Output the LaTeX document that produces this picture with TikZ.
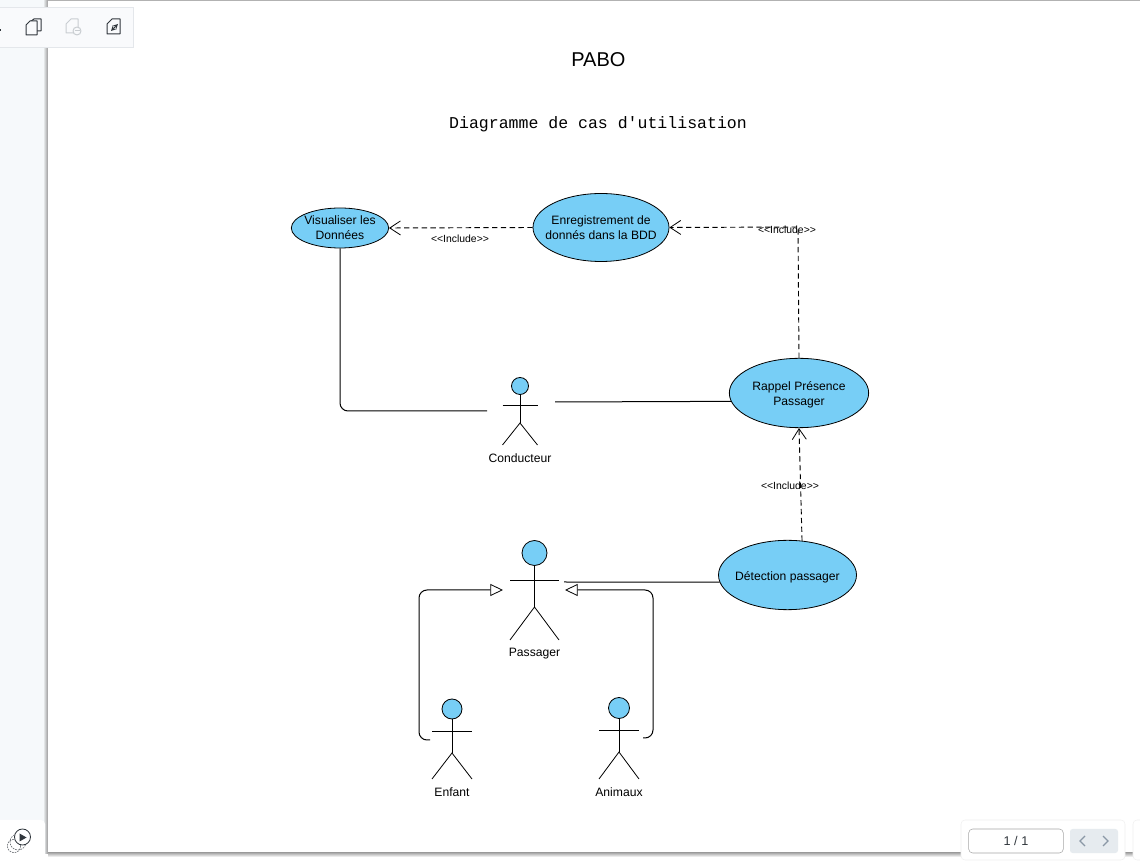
\documentclass[tikz,border=0pt]{standalone}
\usepackage{fontspec}
\setmainfont{Liberation Sans}
\setmonofont{Liberation Mono}
\usetikzlibrary{arrows.meta,shapes.geometric}
\definecolor{cyanfill}{HTML}{77CEF6}
\definecolor{panelbg}{HTML}{F6F9FB}
\definecolor{toolbg}{HTML}{F9FAFC}
\definecolor{toolline}{HTML}{E4E7EB}
\definecolor{navbg}{HTML}{E6EBEF}
\definecolor{navfg}{HTML}{8A98A6}
\definecolor{iconfg}{HTML}{30363C}
\definecolor{iconoff}{HTML}{C9CDD1}
% actor: name, x, head y, radius, half width, arm y, hip y, foot y, label
\newcommand{\actor}[9]{
    \node[head, minimum size = 2*#4*0.75pt] (#1) at (#2,#3) {};
    \coordinate (#1hip) at (#2,#7);
    \draw[limb] (#1) -- (#1hip);
    \draw[limb] (#2-#5,#6) -- (#2+#5,#6);
    \draw[limb] (#2-#5,#8) -- (#1hip) -- (#2+#5,#8);
    \node[actorlabel] (#1label) at (#2,#8+13.5) {#9};
}
\begin{document}
\begin{tikzpicture}[
                    x = 0.75pt,
                    y = -0.75pt,
                    include/.style = {draw, dashed, dash pattern = on 4pt off 2.6pt, line width = 0.7pt, -{Straight Barb[length = 8pt, width = 10.5pt, line width = 0.6pt]}},
                    assoc/.style = {draw, line width = 0.75pt, rounded corners = 6pt},
                    general/.style = {assoc, -{Triangle[open, length = 9.5pt, width = 9pt, line width = 0.6pt, fill = white]}},
                    usecase/.style = {draw, ellipse, fill = cyanfill, line width = 0.6pt, inner sep = -16pt, align = center, font = \fontsize{9.1}{11}\selectfont},
                    head/.style = {draw, circle, fill = cyanfill, line width = 0.6pt, inner sep = 0pt},
                    limb/.style = {draw, line width = 0.6pt},
                    actorlabel/.style = {font = \fontsize{9.1}{11}\selectfont, inner sep = 0pt},
                    inclabel/.style = {font = \fontsize{7.8}{9}\selectfont, inner sep = 0pt},
                    tool/.style = {draw = iconfg, line width = 0.75pt, line join = round}]
    \useasboundingbox (0,0) rectangle (1140,862);
    % viewer around the page
    \fill[panelbg] (0,0) rectangle (1140,862);
    \fill[white] (44,852) rectangle (1140,862);
    \shade[left color = panelbg, right color = black!40] (43,0) rectangle (48,853);
    \shade[top color = black!40, bottom color = white] (48,852) rectangle (1140,857);
    \fill[white] (48,1) rectangle (1140,852);
    \fill[black!30] (48,0) rectangle (1140,1);
    \filldraw[fill = toolbg, draw = toolline] (-2,7) rectangle (133,47);
    \fill[white, rounded corners = 3pt] (-6,820) rectangle (45,868);
    % title
    \node[font = \fontsize{15}{18}\selectfont] (pabo) at (598.4,60) {PABO};
    \node[font = \ttfamily\fontsize{12.4}{15}\selectfont] (titre) at (598,124) {Diagramme de cas d'utilisation};
    % use cases
    \node[usecase, minimum width = 73pt, minimum height = 30pt]    (visu)      at (340,228)   {Visualiser les\\Données};
    \node[usecase, minimum width = 102pt, minimum height = 51pt]   (enreg)     at (601,227.5) {Enregistrement de\\donnés dans la BDD};
    \node[usecase, minimum width = 104.5pt, minimum height = 52pt] (rappel)    at (799,393)   {\rule{0pt}{9.5pt}Rappel Présence\\Passager};
    \node[usecase, minimum width = 103.5pt, minimum height = 52pt] (detection) at (787.5,575) {\rule{0pt}{9.5pt}Détection passager};
    % actors
    \actor{cond}{520}{386}{8.5}{17.5}{405}{423}{445}{Conducteur}
    \actor{pass}{534.5}{553}{12.5}{24.5}{580}{607}{640}{Passager}
    \actor{enfant}{452}{709}{10}{20}{731}{753}{779}{Enfant}
    \actor{animaux}{619}{708}{10.5}{20}{730}{752}{779}{Animaux}
    % free ends
    \coordinate (condw)  at (487,411);
    \coordinate (conde)  at (555,402);
    \coordinate (passe)  at (564,582);
    \coordinate (passgw) at (503,590);
    \coordinate (passge) at (565,590);
    \coordinate (enfante)  at (430,740);
    \coordinate (animauxe) at (643,738);
    \coordinate (coude) at (798,227);
    % connectors
    \path[include] (enreg.west) -- (visu.east);
    \path[include] (rappel.north) -- (coude) -- (enreg.east);
    \path[include] (detection.67) -- (rappel.south);
    \path[assoc] (visu.south) |- (condw);
    \path[assoc] (conde) -- (rappel.187.5);
    \path[assoc] (detection.186) -- (passe);
    \path[general] (enfante) -- (419,740) -- (419,590) -- (passgw);
    \path[general] (animauxe) -- (653,738) -- (653,590) -- (passge);
    % connector labels
    \node[inclabel] (inc1) at (460,238.5) {<{}<Include>{}>};
    \node[inclabel] (inc2) at (787,229.5) {<{}<Include>{}>};
    \node[inclabel] (inc3) at (790,485.5) {<{}<Include>{}>};
    % toolbar icons
    \draw[tool] (30,24) -- (30,22) -- (34,19) -- (41,19) -- (41,31) -- (37,31);
    \filldraw[tool, fill = toolbg] (26,25) -- (30,21) -- (37,21) -- (37,35) -- (26,35) -- cycle;
    \draw[tool, draw = iconoff] (66,24) -- (71,19) -- (78,19) -- (78,33) -- (66,33) -- cycle;
    \filldraw[tool, draw = iconoff, fill = toolbg] (77,31) circle (3pt);
    \draw[tool, draw = iconoff] (74.5,31) -- (79.5,31);
    \draw[tool] (107,24) -- (112,19) -- (120,19) -- (120,34) -- (107,34) -- cycle;
    \draw[tool, <->, >=stealth] (111,31) -- (118,24);
    \draw[iconfg, line width = 0.9pt] (0,30) -- (1,30);
    % play icon
    \draw[iconfg!70, dash pattern = on 1.2pt off 0.8pt, line width = 0.5pt] (18,842) circle (6pt);
    \draw[iconfg!70, dash pattern = on 1.2pt off 0.8pt, line width = 0.5pt] (14,846) circle (5pt);
    \draw[iconfg, line width = 0.6pt, fill = white] (22.5,837) circle (6pt);
    \fill[iconfg] (19.5,833.5) -- (26.5,837.5) -- (19.5,841.5) -- cycle;
    % page counter
    \filldraw[fill = white, draw = black!6, rounded corners = 3pt] (961,820) rectangle (1125,860);
    \filldraw[fill = white, draw = black!6, rounded corners = 3pt] (1133,820) rectangle (1145,860);
    \node[draw = black!35, rounded corners = 3pt, minimum width = 71pt, minimum height = 18pt, inner sep = 0pt, font = \fontsize{9.5}{11}\selectfont, text = iconfg] (compteur) at (1016,841) {1 / 1};
    \fill[navbg, rounded corners = 2pt] (1070,829) rectangle (1118,853);
    \draw[navfg, line width = 1pt] (1085,836) -- (1080,841) -- (1085,846);
    \draw[navfg, line width = 1pt] (1103,836) -- (1108,841) -- (1103,846);
\end{tikzpicture}
\end{document}
